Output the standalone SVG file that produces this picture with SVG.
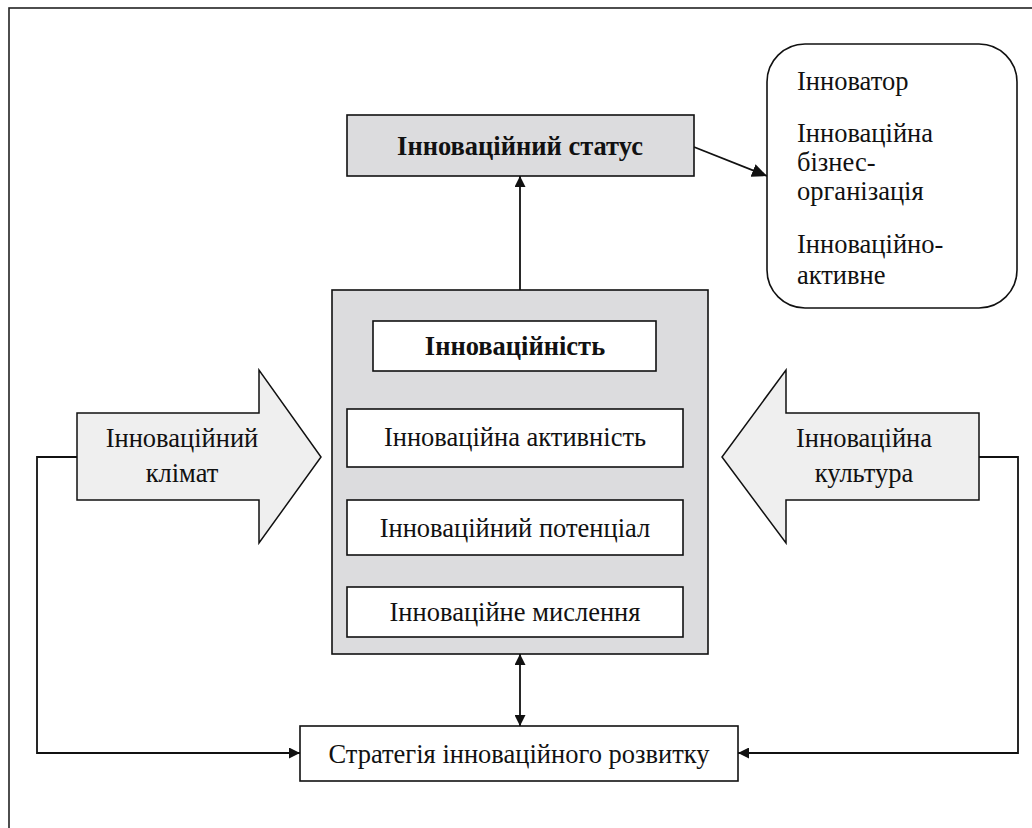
<svg xmlns="http://www.w3.org/2000/svg" width="1032" height="828" viewBox="0 0 1032 828">
<style>
text{font-family:'Liberation Serif','Times New Roman',serif;font-size:26.5px;fill:#111}
.b{font-weight:bold}
.c{text-anchor:middle}
.box{fill:#fff;stroke:#111;stroke-width:1.6}
.grey{fill:#dcdcde;stroke:#111;stroke-width:1.6}
.blk{fill:#efefef;stroke:#111;stroke-width:1.5}
.ln{fill:none;stroke:#111;stroke-width:1.8}
</style>
<defs>
<marker id="ah" viewBox="0 0 10 10" refX="10" refY="5" markerWidth="11" markerHeight="11" markerUnits="userSpaceOnUse" orient="auto-start-reverse">
<path d="M0,0 L10,5 L0,10 z" fill="#111"/>
</marker>
<marker id="ahL" viewBox="0 0 10 10" refX="10" refY="5" markerWidth="15" markerHeight="15" markerUnits="userSpaceOnUse" orient="auto">
<path d="M0,0.5 L10,5 L0,9.5 z" fill="#111"/>
</marker>
</defs>
<rect x="0" y="0" width="1032" height="828" fill="#fff"/>
<rect id="frame" x="9" y="8" width="1060" height="900" fill="none" stroke="#222" stroke-width="1.6"/>

<g id="connectors">
<line class="ln" x1="520" y1="290" x2="520" y2="176" marker-end="url(#ah)"/>
<line class="ln" x1="694" y1="147" x2="767" y2="176" marker-end="url(#ahL)"/>
<line class="ln" x1="515" y1="409" x2="515" y2="371" marker-end="url(#ah)"/>
<line class="ln" x1="515" y1="500" x2="515" y2="467" marker-end="url(#ah)"/>
<line class="ln" x1="515" y1="587" x2="515" y2="555" marker-end="url(#ah)"/>
<line class="ln" x1="520" y1="654" x2="520" y2="726" marker-start="url(#ah)" marker-end="url(#ah)"/>
<polyline class="ln" points="77,457 37,457 37,753 300,753" marker-end="url(#ah)"/>
<polyline class="ln" points="979,457 1018,457 1018,753 738,753" marker-end="url(#ah)"/>
</g>

<g id="status">
<rect class="grey" x="347" y="115" width="347" height="61"/>
<text class="b c" x="520" y="155">Інноваційний статус</text>
</g>

<g id="types">
<rect x="767" y="44" width="250" height="264" rx="38" ry="38" fill="#fff" stroke="#111" stroke-width="1.6"/>
<text x="797" y="90">Інноватор</text>
<text x="797" y="142">Інноваційна</text>
<text x="797" y="171">бізнес-</text>
<text x="797" y="200">організація</text>
<text x="797" y="253">Інноваційно-</text>
<text x="797" y="284">активне</text>
</g>

<g id="container">
<rect class="grey" x="332" y="290" width="376" height="364"/>
</g>

<g id="innovativeness">
<rect class="box" x="373" y="321" width="283" height="50"/>
<text class="b c" x="515" y="355">Інноваційність</text>
</g>

<g id="activity">
<rect class="box" x="347" y="409" width="336" height="58"/>
<text class="c" x="515" y="446">Інноваційна активність</text>
</g>

<g id="potential">
<rect class="box" x="347" y="500" width="336" height="55"/>
<text class="c" x="515" y="537">Інноваційний потенціал</text>
</g>

<g id="thinking">
<rect class="box" x="347" y="587" width="336" height="50"/>
<text class="c" x="515" y="621">Інноваційне мислення</text>
</g>

<g id="climate">
<polygon class="blk" points="77,413 259,413 259,370 321,457 259,543 259,500 77,500"/>
<text class="c" x="182" y="447">Інноваційний</text>
<text class="c" x="182" y="482">клімат</text>
</g>

<g id="culture">
<polygon class="blk" points="979,413 786,413 786,370 722,457 786,543 786,500 979,500"/>
<text class="c" x="864" y="447">Інноваційна</text>
<text class="c" x="864" y="482">культура</text>
</g>

<g id="strategy">
<rect class="box" x="300" y="726" width="438" height="55"/>
<text class="c" x="519" y="763">Стратегія інноваційного розвитку</text>
</g>
</svg>
